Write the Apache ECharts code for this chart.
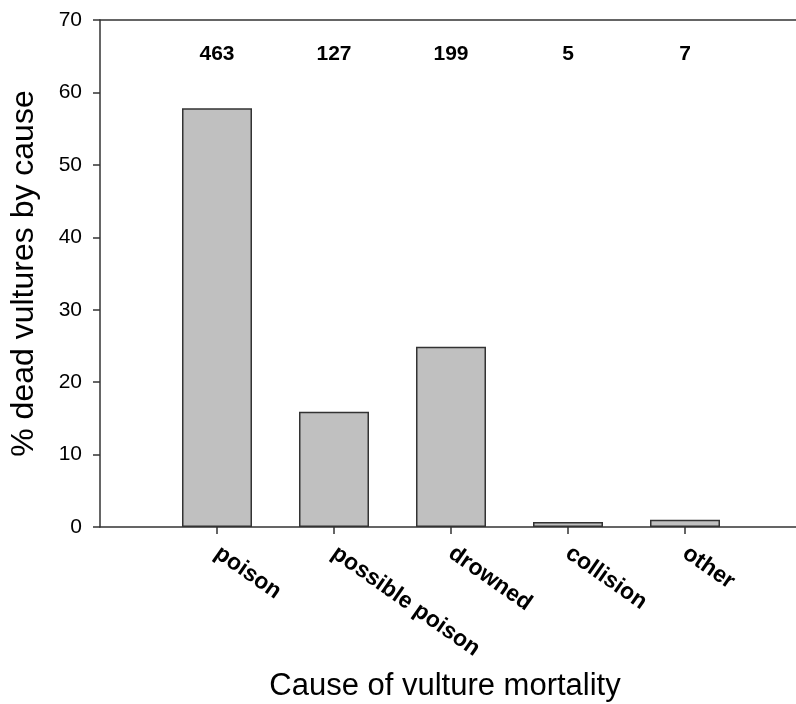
<!DOCTYPE html>
<html>
<head>
<meta charset="utf-8">
<script src="https://cdn.jsdelivr.net/npm/echarts@6/dist/echarts.min.js"></script>
<style>html,body{margin:0;padding:0;background:#fff}#c{width:796px;height:704px}</style>
</head>
<body>
<div id="c"></div>
<script>
const categories = ['poison', 'possible poison', 'drowned', 'collision', 'other'];
const percentDead = [57.8, 15.9, 24.9, 0.7, 1.0];
const counts = [463, 127, 199, 5, 7];
const yTicks = { min: 0, max: 70, interval: 10 };

const FONT = "'Liberation Sans', Arial, sans-serif";
const axisCats = [''].concat(categories, ['']);
const barData = ['-'].concat(percentDead, ['-']);
const COUNT_ROW = 65.3;
const countData = counts.map((c, i) => [i + 1, COUNT_ROW]);

const chart = echarts.init(document.getElementById('c'), null, { renderer: 'canvas' });
chart.setOption({
  animation: false,
  backgroundColor: '#fff',
  grid: { left: 100, top: 20, width: 702, height: 507, outerBoundsMode: 'none' },
  xAxis: [{
    type: 'category',
    data: axisCats,
    boundaryGap: false,
    position: 'bottom',
    axisLine: { show: true, lineStyle: { color: '#333', width: 1.5 } },
    axisTick: { show: true, inside: false, length: 7, lineStyle: { color: '#333', width: 1.5 },
      interval: (i, v) => v !== '' },
    axisLabel: { interval: 0, rotate: -35, margin: 24, color: '#000', fontFamily: FONT,
      fontWeight: 'bold', fontSize: 23 },
    splitLine: { show: false },
    name: 'Cause of vulture mortality',
    nameLocation: 'middle',
    nameGap: 144,
    nameMoveOverlap: false,
    nameTextStyle: { fontFamily: FONT, fontSize: 31, color: '#000', padding: [0, 12, 0, 0] }
  }, {
    type: 'category',
    data: axisCats,
    boundaryGap: false,
    position: 'top',
    axisLine: { show: true, lineStyle: { color: '#333', width: 1.5 } },
    axisTick: { show: false },
    axisLabel: { show: false },
    splitLine: { show: false }
  }],
  yAxis: {
    type: 'value',
    min: yTicks.min, max: yTicks.max, interval: yTicks.interval,
    axisLine: { show: true, lineStyle: { color: '#333', width: 1.5 } },
    axisTick: { show: true, inside: false, length: 7, lineStyle: { color: '#333', width: 1.5 } },
    axisLabel: { margin: 18, color: '#000', fontFamily: FONT, fontSize: 21 },
    splitLine: { show: false },
    name: '% dead vultures by cause',
    nameLocation: 'middle',
    nameGap: 60,
    nameMoveOverlap: false,
    nameTextStyle: { fontFamily: FONT, fontSize: 32, color: '#000' }
  },
  series: [{
    type: 'bar',
    xAxisIndex: 0,
    data: barData,
    barWidth: 70,
    itemStyle: { color: '#c0c0c0', borderColor: '#333', borderWidth: 1.5 }
  }, {
    type: 'scatter',
    xAxisIndex: 0,
    data: countData,
    symbolSize: 0,
    silent: true,
    itemStyle: { opacity: 1 },
    label: {
      show: true, position: 'inside',
      formatter: p => String(counts[p.dataIndex]),
      color: '#000', opacity: 1, fontFamily: FONT, fontWeight: 'bold', fontSize: 21
    }
  }]
});
</script>
</body>
</html>
